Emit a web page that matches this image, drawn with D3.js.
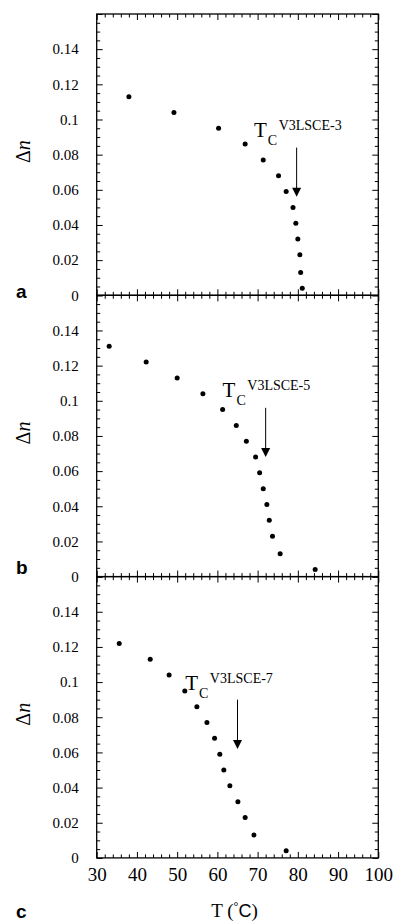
<!DOCTYPE html>
<html>
<head>
<meta charset="utf-8">
<script src="https://cdn.jsdelivr.net/npm/d3@7"></script>
<style>
  body { margin: 0; background: #fff; }
  figure { margin: 0; }
  svg { display: block; }
</style>
</head>
<body>
<figure id="chart"></figure>
<script>
// Birefringence vs temperature, three samples (panels a, b, c)
const tempA = [38.0, 49.2, 60.3, 66.9, 71.4, 75.2, 77.1, 78.8, 79.5, 80.0, 80.5, 80.7, 81.1];
const dnA   = [0.113, 0.104, 0.095, 0.086, 0.077, 0.068, 0.059, 0.050, 0.041, 0.032, 0.023, 0.013, 0.004];

const tempB = [33.1, 42.3, 50.0, 56.4, 61.3, 64.7, 67.2, 69.5, 70.5, 71.4, 72.3, 72.9, 73.7, 75.6, 84.3];
const dnB   = [0.131, 0.122, 0.113, 0.104, 0.095, 0.086, 0.077, 0.068, 0.059, 0.050, 0.041, 0.032, 0.023, 0.013, 0.004];

const tempC = [35.6, 43.3, 48.0, 51.9, 54.9, 57.4, 59.3, 60.6, 61.6, 63.1, 65.1, 66.9, 69.1, 77.1];
const dnC   = [0.122, 0.113, 0.104, 0.095, 0.086, 0.077, 0.068, 0.059, 0.050, 0.041, 0.032, 0.023, 0.013, 0.004];

// Tc arrows (temperature, arrow start / tip in Δn) and their labels
const sampleNames = ["V3LSCE-3", "V3LSCE-5", "V3LSCE-7"];
const tcTemp      = [79.7, 72.0, 65.0];
const arrowTop    = [0.084, 0.096, 0.090];
const arrowTip    = [0.056, 0.068, 0.062];
const labelTemp   = [69.1, 61.3, 52.0];
const labelDn     = [0.090, 0.102, 0.0955];
const panelLetters = ["a", "b", "c"];

// axis ticks
const xTicks = [30, 40, 50, 60, 70, 80, 90, 100];
const xTickLabels = ["30", "40", "50", "60", "70", "80", "90", "100"];
const yTicks = [0, 0.02, 0.04, 0.06, 0.08, 0.1, 0.12, 0.14, 0.16];
const yTickLabels = ["0", "0.02", "0.04", "0.06", "0.08", "0.1", "0.12", "0.14", ""];

const series = [[tempA, dnA], [tempB, dnB], [tempC, dnC]];

const width = 393, height = 922;
const plotLeft = 96.7, plotRight = 378.3, plotTop = 14, panelH = 281.3;
const majorLen = 6, minorLen = 3.5;
const serif = "Liberation Serif";
const sans = "Liberation Sans";
const letterBaseline = [298, 574, 918];

const x = d3.scaleLinear().domain([30, 100]).range([plotLeft, plotRight]);

const xMinor = d3.range(0, 36).map(i => 30 + i * 2).filter(v => v % 10 !== 0);
const yMinor = d3.range(0, 33).filter(i => i % 4 !== 0).map(i => i * 0.005);

const svg = d3.select("figure#chart")
  .append("svg")
  .attr("width", width)
  .attr("height", height);

series.forEach((s, i) => {
  const y0 = plotTop + i * panelH;
  const y = d3.scaleLinear().domain([0, 0.16]).range([y0 + panelH, y0]);
  const g = svg.append("g");
  const last = i === series.length - 1;

  // ticks on all four sides, pointing inward
  const addAxis = (axis, transform, fontSize) => {
    const a = g.append("g").attr("transform", transform).call(axis);
    a.attr("font-family", serif).attr("font-size", fontSize || 10);
    a.select(".domain").remove();
    a.selectAll(".tick line").attr("stroke", "#000").attr("stroke-width", 1);
    a.selectAll(".tick text").attr("fill", "#000");
    return a;
  };

  addAxis(d3.axisBottom(x).tickValues(xMinor).tickSize(-minorLen).tickFormat(""), `translate(0,${y(0)})`);
  addAxis(d3.axisTop(x).tickValues(xMinor).tickSize(-minorLen).tickFormat(""), `translate(0,${y0})`);
  addAxis(d3.axisLeft(y).tickValues(yMinor).tickSize(-minorLen).tickFormat(""), `translate(${plotLeft},0)`);
  addAxis(d3.axisRight(y).tickValues(yMinor).tickSize(-minorLen).tickFormat(""), `translate(${plotRight},0)`);

  addAxis(
    d3.axisBottom(x).tickValues(xTicks).tickSize(-majorLen).tickPadding(10)
      .tickFormat((d, k) => last ? xTickLabels[k] : ""),
    `translate(0,${y(0)})`, 19);

  addAxis(d3.axisTop(x).tickValues(xTicks).tickSize(-majorLen).tickFormat(""), `translate(0,${y0})`);

  addAxis(
    d3.axisLeft(y).tickValues(yTicks).tickSize(-majorLen).tickPadding(18)
      .tickFormat((d, k) => yTickLabels[k]),
    `translate(${plotLeft},0)`, 15);

  addAxis(d3.axisRight(y).tickValues(yTicks).tickSize(-majorLen).tickFormat(""), `translate(${plotRight},0)`);

  // frame
  g.append("rect")
    .attr("x", plotLeft).attr("y", y0)
    .attr("width", plotRight - plotLeft).attr("height", panelH)
    .attr("fill", "none").attr("stroke", "#000").attr("stroke-width", 1.3);

  // data points
  g.selectAll(".dot")
    .data(s[0].map((t, k) => ({ t: t, dn: s[1][k] })))
    .enter()
    .append("circle")
    .attr("class", "dot")
    .attr("cx", d => x(d.t))
    .attr("cy", d => y(d.dn))
    .attr("r", 2.5)
    .attr("fill", "#000");

  // Tc arrow
  const ax = x(tcTemp[i]), tip = y(arrowTip[i]), headH = 9, headW = 4.5;
  g.append("line")
    .attr("x1", ax).attr("x2", ax)
    .attr("y1", y(arrowTop[i])).attr("y2", tip - headH + 1)
    .attr("stroke", "#000").attr("stroke-width", 1);
  g.append("path")
    .attr("d", `M${ax - headW},${tip - headH}L${ax + headW},${tip - headH}L${ax},${tip}Z`)
    .attr("fill", "#000");

  // Tc label
  const lbl = g.append("text")
    .attr("x", x(labelTemp[i])).attr("y", y(labelDn[i]))
    .attr("font-family", serif).attr("fill", "#000");
  lbl.append("tspan").attr("font-size", 21).text("T");
  lbl.append("tspan").attr("font-size", 14).attr("dx", 1).attr("dy", 8).text("C");
  lbl.append("tspan").attr("font-size", 14).attr("dx", 1.5).attr("dy", -15).text(sampleNames[i]);

  // y axis title
  const yt = g.append("text")
    .attr("transform", `translate(30,${y0 + panelH / 2 - 3}) rotate(-90)`)
    .attr("text-anchor", "middle")
    .attr("font-family", serif).attr("font-size", 20).attr("fill", "#000");
  yt.append("tspan").text("Δ");
  yt.append("tspan").attr("font-style", "italic").text("n");

  // panel letter
  g.append("text")
    .attr("x", 16).attr("y", letterBaseline[i])
    .attr("font-family", sans).attr("font-weight", "bold").attr("font-size", 19)
    .attr("fill", "#000")
    .text(panelLetters[i]);
});

// x axis title
const xt = svg.append("text")
  .attr("x", (plotLeft + plotRight) / 2 - 3).attr("y", 917)
  .attr("text-anchor", "middle")
  .attr("font-family", serif).attr("font-size", 19).attr("fill", "#000");
xt.append("tspan").text("T (");
xt.append("tspan").attr("font-size", 12).attr("dy", -7).text("°");
xt.append("tspan").attr("font-family", sans).attr("font-size", 18).attr("dy", 7).text("C");
xt.append("tspan").text(")");
</script>
</body>
</html>
